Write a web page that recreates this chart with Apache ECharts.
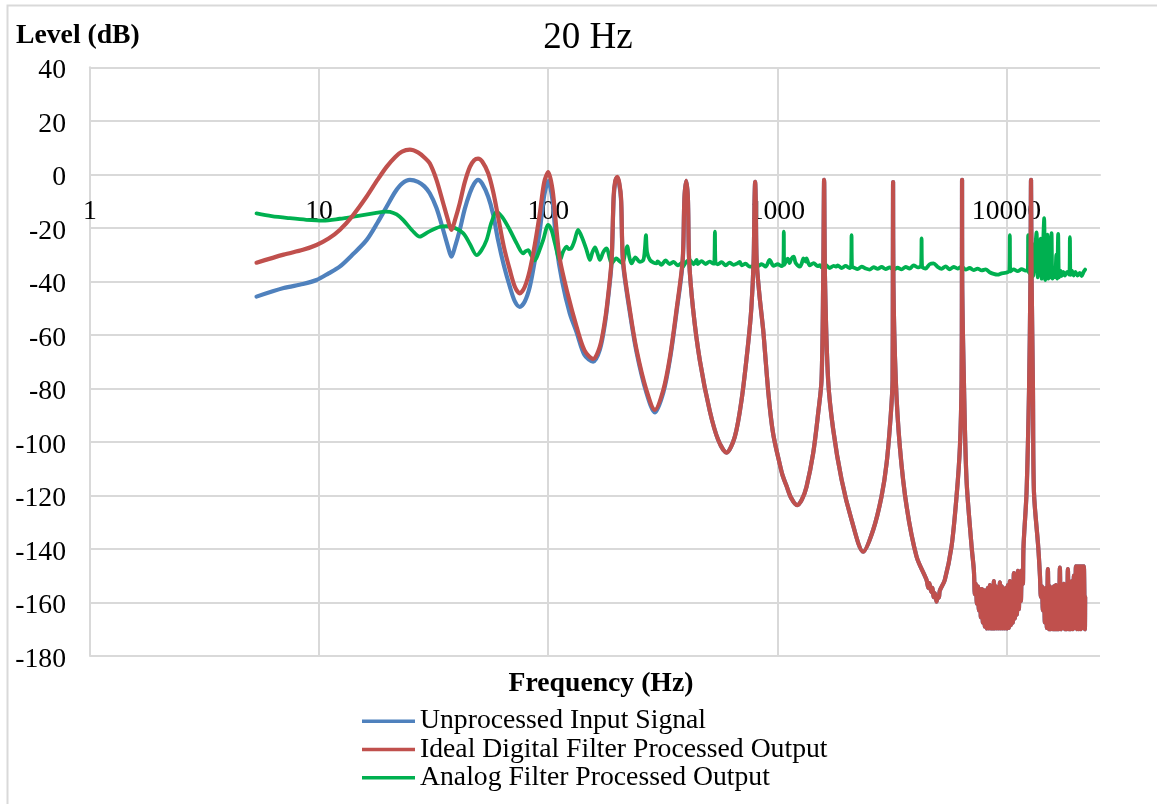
<!DOCTYPE html>
<html><head><meta charset="utf-8">
<script src="https://cdn.jsdelivr.net/npm/echarts/dist/echarts.min.js"></script>
<style>html,body{margin:0;padding:0;background:#fff}#c{width:1157px;height:804px}</style>
</head><body><div id="c"></div>
<script>
const FONT = '"Liberation Serif", "Times New Roman", serif';
const titleText = '20 Hz';
const yAxisTitle = 'Level (dB)';
const xAxisTitle = 'Frequency (Hz)';
const seriesNames = ['Unprocessed Input Signal', 'Ideal Digital Filter Processed Output', 'Analog Filter Processed Output'];
const seriesColors = ['#4F81BD', '#C0504D', '#00B050'];
const xTickLabels = [1, 10, 100, 1000, 10000];
const yRange = [-180, 40, 20];

// Unprocessed input: [frequency Hz, level dB] (above ~390 Hz it coincides with the ideal-filter output)
const bluePoints = [[5.33,-45.7],[7,-42.5],[8.5,-41],[9.74,-39.5],[11,-37],[12.3,-34.5],[14,-30],[16.1,-24.6],[18,-18],[19.7,-12.1],[21.5,-6.5],[23,-3.5],[24.9,-2.1],[27,-2.8],[28.8,-4.5],[30.4,-7.1],[32.5,-12.5],[34.8,-20.8],[36.5,-27],[37.8,-30.8],[39.2,-27],[41.1,-20.8],[43.2,-13],[45.5,-7.0],[47.5,-3.5],[49.4,-2.1],[51.5,-3.5],[54.7,-8.4],[57.5,-15],[60.4,-24.6],[64,-34],[68,-42],[71.5,-47.5],[75.1,-49.5],[79,-47.5],[83.1,-42],[87.5,-32],[91.9,-20.8],[96,-8],[100,-2.5],[104.5,-10],[108.7,-27],[115,-40],[124,-51.8],[133,-59],[144,-67.5],[157,-70],[168,-65.5],[177,-55.5],[183,-45.5],[189,-33],[193,-9],[196,-3],[200,-1.2],[204,-3.5],[208,-10],[212,-33],[227,-51.5],[243,-66.5],[268,-81.5],[292,-89],[318,-81.5],[340,-69],[363,-51.5],[386,-33]];

// Ideal digital filter output
const redPoints = [[5.33,-33.0],[7,-30],[8.5,-28.2],[9.74,-26.4],[11,-24],[12.3,-20.8],[14,-15.5],[16.1,-8.4],[18,-2],[19.7,2.8],[21.5,6.5],[23,8.5],[24.9,9.2],[27,8.2],[28.8,6.3],[30.4,4.1],[32.5,-2],[34.8,-10.8],[36.5,-17],[37.8,-20.8],[39.2,-17],[41.1,-10.8],[43.2,-3],[45.5,2.8],[47.5,5.3],[49.4,5.9],[51.5,4.8],[54.7,0.4],[57.5,-6.5],[60.4,-15.8],[64,-27],[68,-35.8],[71.5,-42],[75.1,-44.5],[79,-42],[83.1,-35.8],[87.5,-26],[91.9,-14.6],[96,-3],[100,0.8],[104.5,-6],[108.7,-20.8],[112.5,-32],[121,-44],[133,-57],[144,-65.8],[157,-69],[168,-64.4],[177,-54.4],[183,-44.5],[189,-32],[193,-8],[196,-2.5],[200,-0.9],[204,-3],[208,-9],[212,-32],[227,-50.6],[243,-65.6],[268,-80.5],[292,-88],[318,-80.5],[340,-68.1],[363,-50.6],[386,-32],[393,-9],[400,-2.4],[407,-9],[412,-32],[429,-50.6],[459,-69.6],[507,-88.4],[552,-99.3],[600,-104],[652,-98.1],[698,-84.3],[746,-63.1],[770,-50],[788,-32],[795,-10],[800,-2.8],[805,-10],[812,-32],[835,-45],[867,-58],[890,-70],[912,-81],[935,-90],[959,-97],[985,-102],[1010,-106],[1050,-112],[1097,-116.5],[1150,-121],[1220,-123.6],[1280,-121.5],[1340,-116.8],[1433,-104.3],[1507,-89.3],[1559,-76.9],[1585,-40],[1600,-2.1],[1615,-40],[1666,-76.9],[1753,-95.4],[1907,-114.1],[2108,-129.1],[2370,-141],[2619,-132.9],[2849,-120.4],[2998,-108],[3130,-89.3],[3183,-76.9],[3192,-40],[3200,-2.9],[3210,-40],[3288,-76.9],[3425,-101.8],[3667,-124.2],[4053,-142.9],[4480,-151.6],[4560,-154.5],[4610,-152.8],[4690,-156],[4740,-154.5],[4820,-158],[4870,-156.5],[4950,-159.7],[5020,-157.5],[5070,-158.2],[5118,-155.6],[5380,-151.6],[5755,-139.2],[6055,-120.4],[6264,-101.8],[6370,-76.9],[6390,-40],[6400,-2.1],[6410,-40],[6518,-76.9],[6694,-114.2],[7046,-139.2],
[7207,-148],[7280,-157],[7353,-153],[7427,-160.5],[7502,-154],[7578,-163],[7655,-155],[7732,-165.5],[7810,-155],[7889,-167.5],[7969,-155.5],[8049,-169],[8131,-155.5],[8213,-169.7],[8296,-154.5],[8380,-169.7],[8464,-153.5],[8550,-169.7],[8636,-155],[8723,-169.7],[8811,-152],[8900,-169.7],[8990,-154],[9081,-169.7],[9173,-154.5],[9266,-169.7],[9359,-152.5],[9454,-169.7],[9549,-154],[9646,-169.7],[9743,-155],[9841,-169.7],[9940,-154.5],[10040,-169.7],[10142,-153.5],[10244,-169.5],[10348,-152],[10452,-168.5],[10558,-153],[10665,-167.5],[10772,-149],[10881,-166],[10991,-150],[11102,-164.5],[11214,-148.2],[11327,-162.5],[11441,-148.5],[11557,-159.5],[11673,-148],[11791,-153],[11870,-139],
[12240,-118.6],[12550,-80],[12720,-40],[12800,-2.1],[12880,-40],[13050,-80],[13180,-118.6],[13760,-139.2],[14000,-150],
[14132,-158],[14274,-154],[14418,-163],[14564,-155],[14711,-167.5],[14860,-154.5],[15010,-169.5],[15162,-147.5],[15315,-170],[15470,-154],[15626,-170],[15784,-155],[15943,-170],[16105,-154],[16267,-170],[16432,-153.5],[16598,-170],[16766,-154],[16935,-170],[17106,-147],[17279,-170],[17454,-154],[17630,-169.5],[17808,-153],[17988,-170],[18170,-154],[18354,-170],[18539,-147.5],[18727,-170],[18916,-153],[19107,-170],[19300,-152],[19495,-170],[19692,-150],[19891,-169.5],[20092,-146.5],[20295,-170],[20500,-146.5],[20707,-170],[20917,-146.5],[21128,-170],[21342,-146.5],[21557,-169.5],[21775,-146.5],[21995,-170],[22050,-158]];

// Analog filter output
const greenPoints = [[5.33,-14.6],[6.2,-15.6],[7.45,-16.4],[8.8,-17.0],[10.4,-17.3],[12.3,-16.6],[14.6,-15.6],[17.5,-14.5],[19.5,-13.9],[20.4,-14.0],[21.8,-15],[23.3,-17.1],[25.5,-21],[27.5,-23.3],[30,-21.5],[33.7,-19.6],[36,-19.4],[38.5,-19.8],[42.5,-22],[45.5,-26],[48.7,-30.2],[51,-28.5],[53.8,-24.6],[56.5,-18],[59.5,-14],[63,-16],[68,-20.8],[73,-26],[77.7,-29.5],[79.5,-28.8],[81.7,-28.3],[84,-30],[87.4,-32.2],[91,-29],[95,-24.6],[100,-18.9],[103.5,-21],[107,-25.8],[112.5,-32.2],[116,-29],[120.3,-27],[123,-27.9],[126,-27.7],[130,-25],[135,-20.8],[141,-24],[147,-28.3],[152,-32],[156,-29],[160,-27.3],[164,-29.5],[168,-32],[174,-29],[180,-27.7],[185,-31],[189,-33.3],[198,-31.4],[205,-32.5],[211,-33.3],[216,-30],[221,-26.8],[226,-31],[231,-33.3],[240,-31],[251,-32.7],[260,-32],[264,-28],[267,-22.7],[270,-29],[278,-32],[288,-33],[297,-33.3],
[300,-32.5],[312,-33.8],[325,-32.2],[339,-33.5],[353,-32.7],[367,-34],[382,-33.2],[388,-34.5],[398,-33],[414,-32],[431,-33.6],[444,-32],[449,-33.5],[467,-32.4],[486,-33.5],[506,-32.6],[527,-33.4],[531,-32.8],[534,-21.4],[537,-33],[549,-33.6],[571,-32.8],[595,-34],[619,-33],[644,-33.8],[671,-33.2],[686,-32.7],[698,-34],[727,-33.4],[757,-34.5],[784,-34.5],[788,-33.8],[820,-34.4],[854,-33.6],[889,-34.5],[925,-32],[963,-34.2],[1003,-33.6],[1044,-34.3],[1062,-33.5],[1067,-21.4],[1072,-33.8],[1087,-32.8],[1110,-31.5],[1131,-33.2],[1150,-31.6],[1178,-30.8],[1200,-33],[1226,-34],[1254,-34.5],[1276,-33.4],[1300,-31.4],[1329,-32.6],[1341,-31.4],[1383,-34],[1440,-33.2],[1499,-34.3],[1534,-33.9],[1560,-34.8],[1624,-33.8],[1691,-35],[1760,-34.2],[1812,-34.5],[1833,-34],[1908,-35],[1986,-34.2],[2067,-35],[2098,-34.5],[2108,-22.7],[2118,-34.6],[2152,-34.8],[2241,-35.4],[2333,-34.5],[2428,-35.2],[2528,-35.6],[2632,-34.7],[2740,-35.3],[2852,-34.6],[2969,-35.4],[3091,-34.8],[3217,-35.6],[3349,-34.9],[3487,-35.5],[3630,-34.6],[3779,-35.2],[3934,-34],[4095,-34.8],[4240,-34.2],[4261,-23.9],[4282,-34.5],[4438,-35.2],[4620,-33.6],[4809,-33.3],[5007,-34.6],[5212,-35.3],[5426,-34.4],[5648,-35.5],[5880,-34.6],[6121,-35.2],[6372,-34.5],[6633,-35.6],[6905,-35],[7189,-35.8],[7483,-35.2],[7790,-35.9],[8110,-35.5],[8442,-36.6],[8789,-37.2],[9149,-37.5],[9524,-37],[9915,-36.8],[10300,-36],[10346,-22.7],[10390,-36.3],[10745,-35.5],[11186,-36.2],[11645,-35.4],[12122,-36],[12400,-35.5],[12434,-22.7],[12470,-36],[12620,-37],[12800,-33],[12950,-26],[13100,-38],[13300,-30],[13530,-21.7],[13700,-38.5],[13900,-27],[14100,-24],[14250,-39],[14450,-26],[14607,-16.4],[14750,-39.5],[14950,-30],[15100,-22.5],[15250,-39],[15450,-32],[15600,-38.5],[15732,-22],[15870,-39],[16061,-37],[16300,-38.5],[16500,-30],[16650,-39],[16812,-22.3],[16960,-38.5],[17200,-36],[17406,-38],[17700,-36.5],[18000,-37.8],[18400,-36.5],[18800,-37.5],[18918,-23.5],[19040,-37.6],[19300,-36],[19636,-37.8],[20000,-36.5],[20442,-37.8],[20900,-36.8],[21280,-38],[21700,-36.5],[22050,-35.6]];

const lastBlueF = bluePoints[bluePoints.length - 1][0];
const blueData = bluePoints.concat(redPoints.filter(p => p[0] > lastBlueF));

const GRID_TOP = 67.3, GRID_BOTTOM = 148, H = 804;
const plotH = H - GRID_TOP - GRID_BOTTOM;
// the frequency axis crosses the level axis at 0 dB
const xAxisOffset = -plotH * (0 - yRange[0]) / (yRange[1] - yRange[0]);

const chart = echarts.init(document.getElementById('c'), null, {renderer: 'canvas'});
const GRID = '#d9d9d9';
function lineSeries(name, data, color, width, z) {
  return {
    name: name, type: 'line', data: data, showSymbol: false, symbol: 'none',
    smooth: 0.3, z: z, clip: true,
    lineStyle: {color: color, width: width, join: 'round', cap: 'round'},
    itemStyle: {color: color}, emphasis: {disabled: true}
  };
}
chart.setOption({
  animation: false,
  backgroundColor: '#fff',
  textStyle: {fontFamily: FONT},
  grid: {left: 90, right: 57, top: GRID_TOP, bottom: GRID_BOTTOM, containLabel: false, outerBoundsMode: 'none'},
  xAxis: {
    type: 'log', logBase: 10, min: 1, max: 25600, splitNumber: 5,
    position: 'bottom', offset: xAxisOffset,
    axisLine: {show: true, onZero: false, lineStyle: {color: GRID, width: 2}},
    axisTick: {show: false},
    axisLabel: {
      fontFamily: FONT, fontSize: 27.7, color: '#000', margin: 23.5, showMaxLabel: false, showMinLabel: true,
      hideOverlap: false,
      formatter: function (v) { const r = Math.round(v); return xTickLabels.indexOf(r) >= 0 ? String(r) : ''; }
    },
    splitLine: {show: true, showMaxLine: false, lineStyle: {color: GRID, width: 2}}
  },
  yAxis: {
    type: 'value', min: yRange[0], max: yRange[1], interval: yRange[2],
    axisLine: {show: true, onZero: false, lineStyle: {color: GRID, width: 2}},
    axisTick: {show: false},
    axisLabel: {
      margin: 24, formatter: '{v|{value}}',
      rich: {v: {fontFamily: FONT, fontSize: 27.7, color: '#000', padding: [7, 0, 0, 0]}}
    },
    splitLine: {show: true, lineStyle: {color: GRID, width: 2}}
  },
  legend: {
    orient: 'vertical', left: 362, top: 707, padding: 0, itemGap: 0,
    itemWidth: 53, itemHeight: 3.5, icon: 'rect',
    data: seriesNames,
    textStyle: {fontFamily: FONT, fontSize: 27.7, color: '#000', lineHeight: 28.3}
  },
  graphic: [
    {type: 'polyline', silent: true, shape: {points: [[7.5, 804], [7.5, 5.5], [1157, 5.5]]}, style: {stroke: GRID, lineWidth: 2, fill: null}},
    {type: 'text', silent: true, x: 16, y: 36, style: {text: yAxisTitle, fontFamily: FONT, fontSize: 27.7, fontWeight: 'bold', fill: '#000', align: 'left', verticalAlign: 'middle'}},
    {type: 'text', silent: true, x: 588, y: 38, style: {text: titleText, fontFamily: FONT, fontSize: 37, fill: '#000', align: 'center', verticalAlign: 'middle'}},
    {type: 'text', silent: true, x: 601, y: 684, style: {text: xAxisTitle, fontFamily: FONT, fontSize: 27.7, fontWeight: 'bold', fill: '#000', align: 'center', verticalAlign: 'middle'}}
  ],
  series: [
    lineSeries(seriesNames[0], blueData, seriesColors[0], 4.2, 2),
    lineSeries(seriesNames[2], greenPoints, seriesColors[2], 3.8, 3),
    lineSeries(seriesNames[1], redPoints, seriesColors[1], 4.2, 4)
  ]
});
</script></body></html>
